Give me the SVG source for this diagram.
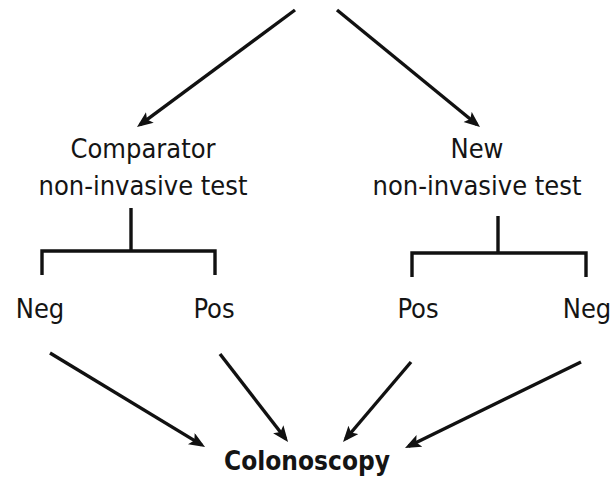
<svg xmlns="http://www.w3.org/2000/svg" width="616" height="479" viewBox="0 0 616 479">
  <style>
    .lbl { font-family: "DejaVu Sans Condensed", "DejaVu Sans", sans-serif; font-size: 27px; fill: #141414; text-anchor: middle; }
    .bold { font-weight: bold; font-size: 26px; }
    .edge { stroke: #111; stroke-width: 3.4; fill: none; }
    .bracket { stroke: #111; stroke-width: 3.4; fill: none; stroke-linejoin: miter; }
  </style>
  <defs>
    <marker id="arrow" markerUnits="userSpaceOnUse" markerWidth="18" markerHeight="15" refX="12" refY="6.5" orient="auto">
      <path d="M0,0 L16,6.5 L0,13 L3.5,6.5 z" fill="#111"/>
    </marker>
  </defs>
  <rect width="616" height="479" fill="#fff"/>

  <g id="connectors">
    <line class="edge" x1="295" y1="10" x2="140.2" y2="124.6" marker-end="url(#arrow)"/>
    <line class="edge" x1="337" y1="10" x2="476.9" y2="124.5" marker-end="url(#arrow)"/>
    <path class="bracket" d="M131,208 V251 M42,275 V251 H215 V275"/>
    <path class="bracket" d="M498,216 V253 M412,277 V253 H586 V277"/>
    <line class="edge" x1="50" y1="353" x2="201.6" y2="444.9" marker-end="url(#arrow)"/>
    <line class="edge" x1="220" y1="354" x2="285.6" y2="438.8" marker-end="url(#arrow)"/>
    <line class="edge" x1="411" y1="362" x2="345.6" y2="439" marker-end="url(#arrow)"/>
    <line class="edge" x1="581" y1="362" x2="408.6" y2="446.2" marker-end="url(#arrow)"/>
  </g>

  <g id="comparator-test">
    <text class="lbl" x="143" y="158">Comparator</text>
    <text class="lbl" x="143" y="195">non-invasive test</text>
  </g>
  <g id="new-test">
    <text class="lbl" x="477" y="158">New</text>
    <text class="lbl" x="477" y="195">non-invasive test</text>
  </g>
  <g id="comparator-neg"><text class="lbl" x="40" y="318">Neg</text></g>
  <g id="comparator-pos"><text class="lbl" x="214" y="318">Pos</text></g>
  <g id="new-pos"><text class="lbl" x="418" y="318">Pos</text></g>
  <g id="new-neg"><text class="lbl" x="587" y="318">Neg</text></g>
  <g id="colonoscopy"><text class="lbl bold" x="307" y="470">Colonoscopy</text></g>
</svg>
